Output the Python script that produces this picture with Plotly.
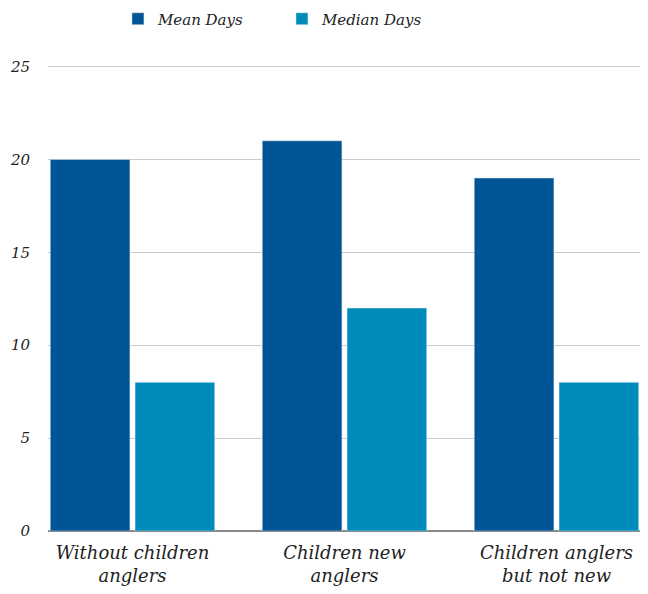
import plotly.graph_objects as go

categories = ["Without children<br>anglers", "Children new<br>anglers", "Children anglers<br>but not new"]
mean_days = [20, 21, 19]
median_days = [8, 12, 8]
y_ticks = [0, 5, 10, 15, 20, 25]

FONT = "DejaVu Serif"
fig = go.Figure()
fig.add_trace(go.Bar(x=list(range(3)), y=mean_days, name="<i>Mean Days</i>", marker_color="#005596"))
fig.add_trace(go.Bar(x=list(range(3)), y=median_days, name="<i>Median Days</i>", marker_color="#008cba"))

fig.update_layout(
    width=632, height=578,
    margin=dict(l=40, r=0, t=57, b=55, autoexpand=False),
    plot_bgcolor="white", paper_bgcolor="white",
    barmode="group", bargap=0.2, bargroupgap=0.06,
    font=dict(family=FONT, size=17, color="#222"),
    legend=dict(orientation="h", x=0.174, xanchor="left", xref="container",
                y=1.0987, yanchor="middle", yref="paper",
                font=dict(size=15), entrywidth=119),
)
fig.update_xaxes(
    tickvals=list(range(len(categories))), ticktext=["<i>%s</i>" % c for c in categories],
    range=[-0.3986, 2.394], showgrid=False, ticks="", showline=False,
    tickfont=dict(size=18), automargin=False, ticklabelstandoff=9,
)
fig.update_yaxes(
    range=[0, 25.08], tickvals=y_ticks, ticktext=["<i>%d</i>" % v for v in y_ticks],
    showgrid=True, gridcolor="#cccccc", gridwidth=1,
    zeroline=True, zerolinecolor="#888888", zerolinewidth=1.5,
    ticks="", ticklabelstandoff=17, tickfont=dict(size=15), automargin=False,
)
fig.write_html("out.html")
